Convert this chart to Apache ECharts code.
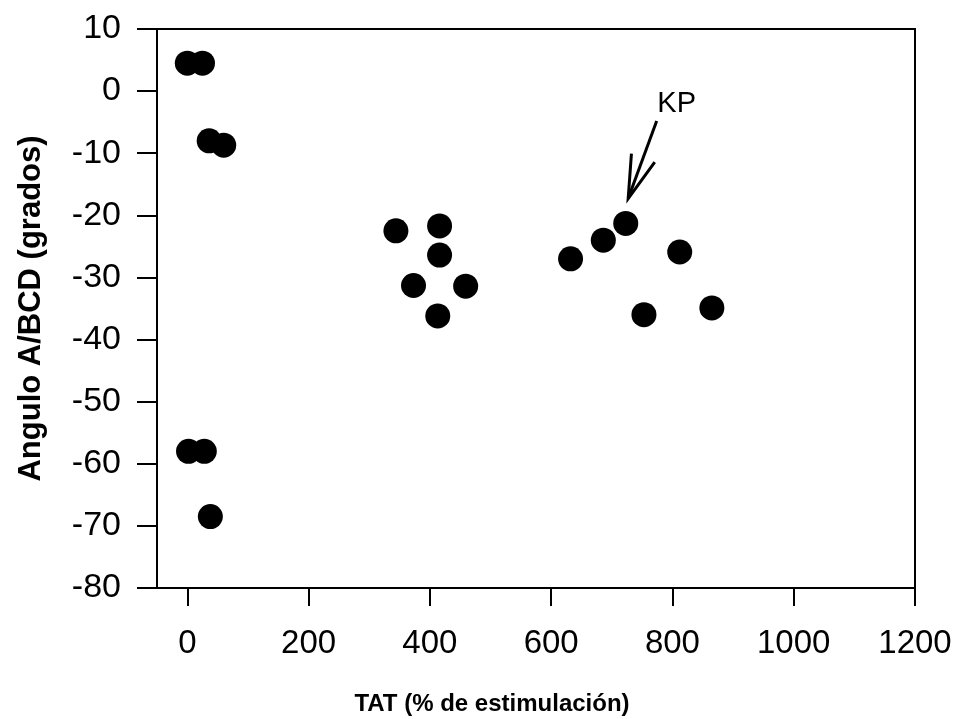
<!DOCTYPE html>
<html>
<head>
<meta charset="utf-8">
<script src="https://cdn.jsdelivr.net/npm/echarts@6/dist/echarts.min.js"></script>
<style>html,body{margin:0;padding:0;background:#fff}#c{width:959px;height:719px}</style>
</head>
<body>
<div id="c"></div>
<script>
var tatValues = [0, 25, 36, 60, 2, 28, 38, 344, 416, 416, 373, 459, 413, 632, 686, 723, 753, 812, 865];
var angleValues = [4.5, 4.5, -8.0, -8.7, -58.0, -58.0, -68.5, -22.5, -21.7, -26.4, -31.3, -31.4, -36.2, -27.0, -24.0, -21.3, -36.0, -25.9, -34.9];
var xTickValues = [0, 200, 400, 600, 800, 1000, 1200];
var annotationText = ['KP'];
var annotationTextPos = [[807, -2]];
var arrowTail = [774, -4.8];
var arrowTip = [727, -17.3];

var FONT = '"Liberation Sans", Arial, sans-serif';
var pts = tatValues.map(function (x, i) { return [x, angleValues[i]]; });

var chart = echarts.init(document.getElementById('c'), null, { renderer: 'canvas' });
chart.setOption({
  backgroundColor: '#fff',
  animation: false,
  grid: { left: 157, right: 44, top: 29, bottom: 131, show: true, borderColor: '#000', borderWidth: 2,
    backgroundColor: 'transparent', containLabel: false, outerBoundsMode: 'none' },
  xAxis: {
    type: 'value', min: -50, max: 1200,
    name: 'TAT (% de estimulación)', nameLocation: 'middle', nameGap: 104,
    nameTextStyle: { fontFamily: FONT, fontWeight: 'bold', fontSize: 24, color: '#000', padding: [0, 88, 0, 0] },
    axisLine: { onZero: false, lineStyle: { color: '#000', width: 2 } },
    axisTick: { show: true, length: 18, inside: false, lineStyle: { color: '#000', width: 2 },
      customValues: xTickValues },
    axisLabel: { margin: 39, fontFamily: FONT, fontSize: 33, color: '#000',
      customValues: xTickValues, formatter: function (v) { return String(v); } },
    splitLine: { show: false }
  },
  yAxis: {
    type: 'value', min: -80, max: 10, interval: 10,
    name: 'Angulo A/BCD (grados)', nameLocation: 'middle', nameGap: 110,
    nameTextStyle: { fontFamily: FONT, fontWeight: 'bold', fontSize: 31, color: '#000' },
    axisLine: { onZero: false, lineStyle: { color: '#000', width: 2 } },
    axisTick: { show: true, length: 20, lineStyle: { color: '#000', width: 2 } },
    axisLabel: { margin: 36, fontFamily: FONT, fontSize: 34, color: '#000' },
    splitLine: { show: false }
  },
  series: [
    {
      type: 'scatter', data: pts, symbol: 'circle', symbolSize: 25,
      itemStyle: { color: '#000', opacity: 1 }, silent: true
    },
    {
      type: 'custom',
      data: [[arrowTail[0], arrowTail[1], arrowTip[0], arrowTip[1]]],
      renderItem: function (params, api) {
        var a = api.coord([api.value(0), api.value(1)]);
        var b = api.coord([api.value(2), api.value(3)]);
        var ang = Math.atan2(a[1] - b[1], a[0] - b[0]);
        var L = 45, spread = 16 * Math.PI / 180;
        var h1 = [b[0] + L * Math.cos(ang - spread), b[1] + L * Math.sin(ang - spread)];
        var h2 = [b[0] + L * Math.cos(ang + spread), b[1] + L * Math.sin(ang + spread)];
        var st = { stroke: '#000', lineWidth: 3, fill: null };
        return { type: 'group', children: [
          { type: 'line', shape: { x1: a[0], y1: a[1], x2: b[0], y2: b[1] }, style: st },
          { type: 'polyline', shape: { points: [h1, b, h2] }, style: st }
        ] };
      }
    },
    {
      type: 'custom',
      data: annotationTextPos.map(function (p, i) { return [p[0], p[1], i]; }),
      renderItem: function (params, api) {
        var p = api.coord([api.value(0), api.value(1)]);
        return { type: 'text', x: p[0], y: p[1], style: {
          text: annotationText[api.value(2)], fontFamily: FONT, fontSize: 29, fill: '#000',
          align: 'center', verticalAlign: 'middle' } };
      }
    }
  ]
});
</script>
</body>
</html>
